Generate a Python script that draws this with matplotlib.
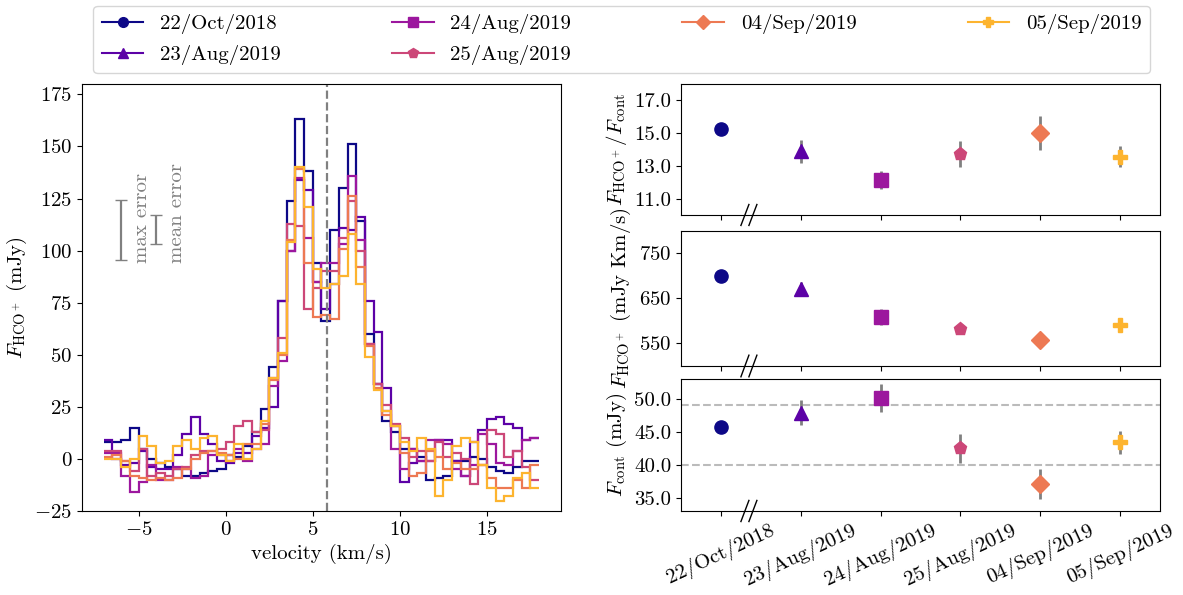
import numpy as np
import matplotlib
matplotlib.use("Agg")
import matplotlib.pyplot as plt
from matplotlib.lines import Line2D

plt.rcParams["font.family"] = "serif"
plt.rcParams["font.serif"] = ["cmr10"]
plt.rcParams["mathtext.fontset"] = "cm"
plt.rcParams["axes.formatter.use_mathtext"] = True
plt.rcParams["font.size"] = 15

# ---- data ----
epochs = ["22/Oct/2018", "23/Aug/2019", "24/Aug/2019", "25/Aug/2019", "04/Sep/2019", "05/Sep/2019"]
markers = ["o", "^", "s", "p", "D", "P"]

# channel edges (km/s)
vel_edges = np.arange(-7.0, 18.01, 0.5)

spec_oct22 = [8, 8, 9, 15, 5, 0, -2, -4, -5, -8, -8, -7, -6, -5, 2, 1, 6, 13,
              24, 44, 76, 124, 163, 138, 94, 66, 110, 130, 151, 114, 60, 36, 18, 13,
              5, 5, 1, -10, -9, -8, -1, -1, 1, 0, -4, -6, -7, -4, -1, -1]
spec_aug23 = [9, 0, -3, -2, 4, -4, -5, -5, 2, 12, 20, 12, 7, -1, -2, 3, 3, 11,
              15, 25, 76, 100, 134, 129, 85, 72, 84, 111, 110, 116, 76, 61, 34, 16,
              -11, -2, -1, -1, 9, 9, -1, -8, 8, 14, 19, 20, 17, 15, 9, 10]
spec_aug24 = [3, 3, -8, -16, -11, -3, -10, -10, -4, -5, -9, -8, 2, 2, -1, 5, -1, 5,
              7, 35, 47, 100, 135, 106, 85, 94, 94, 103, 136, 105, 55, 36, 23, 5,
              -5, 5, -1, 9, 9, 7, -5, -8, -3, 12, 7, -2, -3, 4, 9, 10]
spec_aug25 = [4, 4, -1, -6, 5, -8, -7, -8, -5, -4, 2, 4, 4, 5, 8, 16, 18, 13,
              14, 39, 58, 113, 112, 72, 82, 90, 90, 106, 124, 100, 55, 36, 26, 17,
              10, 1, 4, -1, 8, 1, 3, 0, -12, -3, 14, 12, 1, 4, -4, -10]
spec_sep04 = [1, 2, -1, -8, -9, -10, -9, -10, -9, -5, 0, 3, 4, 3, 2, 0, 7, 7,
              17, 38, 50, 105, 139, 94, 68, 69, 67, 101, 126, 92, 54, 34, 21, 16,
              3, -8, -7, 4, 1, -5, -2, -5, -5, -3, -9, -14, -14, -10, -14, -3]
spec_sep05 = [0, 0, -4, 0, 11, 6, -2, -1, 6, 9, 5, 10, 11, 2, -1, 7, 0, 5,
              18, 39, 51, 104, 140, 121, 91, 82, 84, 88, 108, 84, 49, 33, 23, 16,
              8, 4, 10, 5, -18, -10, 6, 10, 8, -3, -14, -20, -18, -9, -7, -14]
spectra = [spec_oct22, spec_aug23, spec_aug24, spec_aug25, spec_sep04, spec_sep05]

v_sys = 5.8
max_err = 14.4
mean_err = 7.0

ratio = [15.25, 13.9, 12.15, 13.7, 15.0, 13.55]
ratio_err = [0.3, 0.7, 0.55, 0.8, 1.05, 0.65]
flux_line = [700, 671, 609, 583, 558, 590]
flux_line_err = [5, 15, 17, 13, 5, 14]
flux_cont = [45.8, 47.9, 50.1, 42.5, 37.1, 43.4]
flux_cont_err = [0.5, 1.9, 2.1, 2.2, 2.3, 1.75]
cont_lines = [49.0, 40.0]

colors = [plt.cm.plasma(i / 6) for i in range(6)]

fig = plt.figure(figsize=(11.83, 5.95), dpi=100)

# ---- spectra ----
ax = fig.add_axes([0.0693, 0.1412, 0.4049, 0.7176])
for spec, c in zip(spectra, colors):
    ax.stairs(spec, vel_edges, baseline=None, color=c, lw=1.6)
ax.axvline(v_sys, color="gray", ls="--", lw=1.6)
ax.errorbar([-6.0], [110], yerr=[max_err], color="gray", capsize=4, lw=1.6)
ax.errorbar([-4.0], [110], yerr=[mean_err], color="gray", capsize=4, lw=1.6)
ax.text(-5.3, 94, "max error", rotation=90, color="gray", ha="left", va="bottom")
ax.text(-3.3, 94, "mean error", rotation=90, color="gray", ha="left", va="bottom")
ax.set_xlim(-8.25, 19.25)
ax.set_ylim(-25, 180)
ax.set_yticks(np.arange(-25, 176, 25))
ax.set_xticks([-5, 0, 5, 10, 15])
ax.set_xlabel("velocity (km/s)")
ax.set_ylabel(r"$F_{\rm HCO^+}$ (mJy)")

# ---- right panels ----
xpos = np.arange(6)
right_axes = [
    fig.add_axes([0.5757, 0.6387, 0.4049, 0.2202]),
    fig.add_axes([0.5757, 0.3849, 0.4049, 0.2269]),
    fig.add_axes([0.5757, 0.1412, 0.4049, 0.2218]),
]
panels = [(ratio, ratio_err), (flux_line, flux_line_err), (flux_cont, flux_cont_err)]
for a, (vals, errs) in zip(right_axes, panels):
    a.errorbar(xpos, vals, yerr=errs, fmt="none", ecolor="gray", elinewidth=2, zorder=2)
    for i in range(6):
        a.plot(xpos[i], vals[i], marker=markers[i], color=colors[i], ms=9.5, ls="none", zorder=3)
    a.set_xlim(-0.5, 5.5)
    a.set_xticks(xpos)
    a.set_xticklabels([])
    # axis break marks
    for dx in (-0.05, 0.05):
        a.plot([0.30 + dx, 0.40 + dx], [-0.08, 0.08], color="k", lw=1,
               transform=a.get_xaxis_transform(), clip_on=False)

a1, a2, a3 = right_axes
a1.set_ylim(10, 18)
a1.set_yticks([11, 13, 15, 17])
a1.yaxis.set_major_formatter(matplotlib.ticker.FormatStrFormatter("%.1f"))
a1.set_ylabel(r"$F_{\rm HCO^+}/F_{\rm cont}$")

a2.set_ylim(500, 800)
a2.set_yticks([550, 650, 750])
a2.set_ylabel(r"$F_{\rm HCO^+}$ (mJy Km/s)")

a3.set_ylim(33, 53)
a3.set_yticks([35, 40, 45, 50])
a3.yaxis.set_major_formatter(matplotlib.ticker.FormatStrFormatter("%.1f"))
for yl in cont_lines:
    a3.axhline(yl, color="#bbbbbb", ls="--", lw=1.5, zorder=1)
a3.set_ylabel(r"$F_{\rm cont}$ (mJy)")
a3.set_xticklabels(epochs, rotation=25)

# ---- legend ----
handles = [Line2D([], [], color=c, marker=m, ms=7, lw=1.5) for c, m in zip(colors, markers)]
fig.legend(handles, epochs, ncol=4, mode="expand", loc="lower left",
           bbox_to_anchor=(0.079, 0.877, 0.893, 0.118), borderaxespad=0)

fig.savefig("out.png", dpi=100)
